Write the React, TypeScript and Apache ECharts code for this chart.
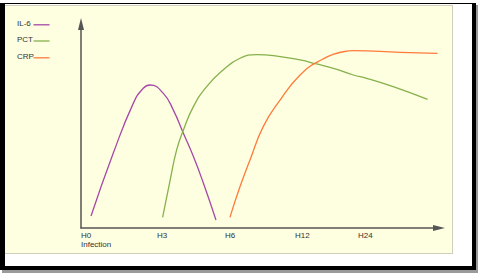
import React, { useEffect, useRef } from 'react';
import * as echarts from 'echarts';

const tickLabels = ['H0\nInfection', 'H3', 'H6', 'H12', 'H24'];
const tickPositions = [0, 21.2, 40.2, 59.8, 77.4];

const seriesNames = ['IL-6', 'PCT', 'CRP'];
const seriesColors = ['#a548a8', '#86b14c', '#ff7b3c'];

const il6X = [2.8, 9.0, 14.6, 17.4, 19.3, 23.0, 25.8, 28.6, 31.4, 34.2, 37.7];
const il6Y = [5.9, 36.6, 61.1, 68.5, 70.1, 66.0, 57.8, 46.4, 35.0, 21.9, 3.9];

const pctX = [22.8, 24.9, 26.7, 28.6, 31.4, 35.1, 39.7, 44.4, 49.1, 54.7, 61.2, 65.8, 70.5, 76.1, 79.8, 87.2, 96.8];
const pctY = [5.2, 23.5, 38.2, 48.0, 59.5, 69.3, 77.5, 83.2, 85.0, 84.3, 82.4, 80.4, 78.3, 75.0, 73.4, 69.3, 63.1];

const crpX = [41.6, 44.4, 47.2, 50.9, 55.6, 61.2, 66.8, 73.3, 76.1, 89.1, 99.6];
const crpY = [5.2, 20.2, 33.3, 49.7, 62.7, 75.0, 82.1, 86.4, 86.9, 86.1, 85.6];

const seriesX = [il6X, pctX, crpX];
const seriesY = [il6Y, pctY, crpY];

export default function App() {
  const ref = useRef<HTMLDivElement>(null);
  useEffect(() => {
    if (!ref.current) return;
    const chart = echarts.init(ref.current, null, { renderer: 'svg' });
    const font = 'Liberation Sans, Arial, sans-serif';
    const legendY = [24.3, 40.5, 57.3];
    const legendGraphics: any[] = [];
    seriesNames.forEach((n, i) => {
      legendGraphics.push({
        type: 'text',
        left: 17,
        top: legendY[i] - 5,
        style: { text: n, fontSize: 8, fontFamily: font, fill: '#333' },
      });
      legendGraphics.push({
        type: 'line',
        shape: { x1: 33.5, y1: legendY[i] + 0.5, x2: 49.5, y2: legendY[i] + 0.5 },
        style: { stroke: seriesColors[i], lineWidth: 1.3 },
      });
    });
    chart.setOption({
      animation: false,
      backgroundColor: 'transparent',
      grid: { left: 81, right: 39, top: 24, bottom: 45 },
      xAxis: {
        type: 'value',
        min: 0,
        max: 100,
        axisLine: {
          show: true,
          lineStyle: { color: '#555', width: 1.5 },
          symbol: ['none', 'triangle'],
          symbolSize: [6, 12],
        },
        axisTick: { show: false },
        splitLine: { show: false },
        axisLabel: {
          customValues: tickPositions,
          formatter: (v: number) => {
            const idx = tickPositions.findIndex((p) => Math.abs(p - v) < 0.01);
            return idx >= 0 ? tickLabels[idx] : '';
          },
          align: 'left',
          margin: 3,
          fontSize: 8,
          lineHeight: 9,
          fontFamily: font,
          color: '#333',
        },
      },
      yAxis: {
        type: 'value',
        min: 0,
        max: 100,
        axisLine: {
          show: true,
          lineStyle: { color: '#555', width: 1.5 },
          symbol: ['none', 'triangle'],
          symbolSize: [6, 12],
        },
        axisTick: { show: false },
        splitLine: { show: false },
        axisLabel: { show: false },
      },
      graphic: legendGraphics,
      series: seriesNames.map((n, i) => ({
        name: n,
        type: 'line',
        data: seriesX[i].map((x, j) => [x, seriesY[i][j]]),
        smooth: 0.5,
        showSymbol: false,
        lineStyle: { color: seriesColors[i], width: 1.3 },
        itemStyle: { color: seriesColors[i] },
      })),
    });
    return () => chart.dispose();
  }, []);

  return (
    <div style={{ position: 'fixed', left: 0, top: 0, width: 478, height: 273, background: '#fff', overflow: 'hidden' }}>
      <div style={{ position: 'absolute', left: 476, top: 5, width: 2, height: 268, background: '#9a9a9a' }} />
      <div style={{ position: 'absolute', left: 2, top: 270, width: 476, height: 3, background: '#9a9a9a' }} />
      <div style={{ position: 'absolute', left: 0, top: 3, width: 476, height: 267, background: '#000' }} />
      <div style={{ position: 'absolute', left: 5, top: 4, width: 467, height: 262, background: '#fff' }} />
      <div style={{ position: 'absolute', left: 5, top: 5, width: 447, height: 247, background: '#fefee0', border: '1px solid #cfcfbc', borderLeft: 'none' }} />
      <div ref={ref} style={{ position: 'absolute', left: 0, top: 0, width: 478, height: 273 }} />
    </div>
  );
}
